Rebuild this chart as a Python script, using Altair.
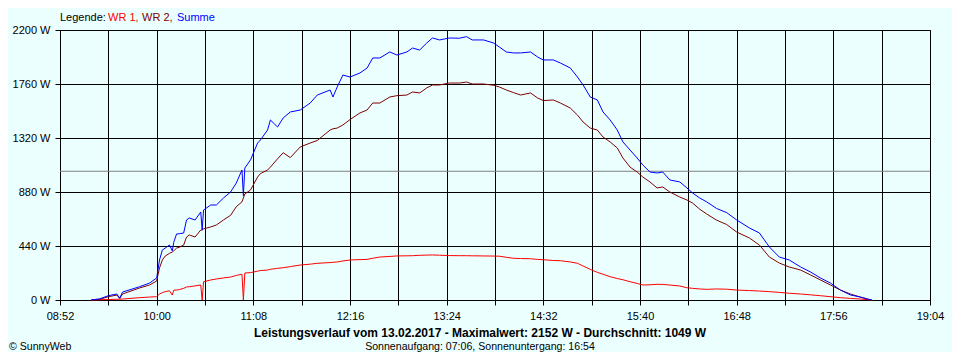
import altair as alt
import pandas as pd

# ---------------- data ----------------
times = [
    "09:14", "09:20", "09:26", "09:32", "09:34", "09:36", "09:48", "09:55", "10:00", "10:02",
    "10:04", "10:06", "10:09", "10:11", "10:12", "10:14", "10:16", "10:19", "10:21", "10:23",
    "10:27", "10:31", "10:32", "10:33", "10:38", "10:42", "10:47", "10:52", "10:56", "11:00",
    "11:01", "11:02", "11:06", "11:11", "11:13", "11:18", "11:20", "11:25", "11:29", "11:34",
    "11:41", "11:48", "11:53", "12:02", "12:04", "12:07", "12:11", "12:16", "12:23", "12:28",
    "12:32", "12:37", "12:44", "12:49", "12:56", "13:00", "13:05", "13:10", "13:14", "13:19",
    "13:26", "13:33", "13:38", "13:42", "13:50", "13:57", "14:01", "14:06", "14:11", "14:16",
    "14:23", "14:28", "14:32", "14:39", "14:44", "14:51", "14:56", "15:00", "15:05", "15:10",
    "15:14", "15:19", "15:24", "15:28", "15:33", "15:38", "15:42", "15:47", "15:52", "15:56",
    "16:01", "16:08", "16:13", "16:17", "16:22", "16:27", "16:34", "16:41", "16:48", "16:57",
    "17:04", "17:11", "17:18", "17:25", "17:33", "17:40", "17:47", "17:54", "18:01", "18:08",
    "18:15", "18:20", "18:23",
]

summe = [
    0, 10, 35, 49, 15, 65, 108, 138, 179, 326,
    407, 423, 448, 400, 470, 538, 540, 546, 652, 668,
    652, 717, 570, 733, 774, 774, 831, 880, 953, 1059,
    850, 1075, 1141, 1279, 1304, 1385, 1467, 1410, 1483, 1532,
    1548, 1605, 1670, 1711, 1654, 1736, 1833, 1817, 1850, 1890,
    1972, 1972, 2021, 1996, 2021, 2053, 2037, 2094, 2135, 2119,
    2135, 2133, 2146, 2119, 2119, 2094, 2062, 2021, 2013, 2013,
    2021, 1980, 1956, 1956, 1931, 1890, 1817, 1752, 1654, 1630,
    1532, 1467, 1385, 1288, 1222, 1157, 1100, 1043, 1035, 1043,
    978, 962, 913, 872, 831, 799, 745, 712, 652, 587,
    546, 432, 350, 326, 269, 228, 179, 138, 81, 41,
    24, 8, 0,
]

wr2 = [
    0, 5, 27, 40, 12, 49, 98, 122, 155, 261,
    326, 358, 380, 391, 400, 423, 430, 448, 513, 530,
    513, 570, 570, 580, 595, 611, 652, 690, 760, 800,
    830, 864, 896, 1002, 1030, 1059, 1083, 1150, 1200, 1160,
    1247, 1279, 1300, 1385, 1395, 1401, 1426, 1470, 1524, 1548,
    1605, 1605, 1654, 1665, 1670, 1695, 1687, 1728, 1752, 1752,
    1768, 1768, 1776, 1760, 1760, 1750, 1736, 1711, 1690, 1670,
    1687, 1646, 1625, 1630, 1605, 1564, 1507, 1450, 1401, 1385,
    1328, 1288, 1239, 1157, 1083, 1043, 1002, 962, 913, 921,
    880, 839, 815, 790, 740, 700, 650, 615, 554, 505,
    448, 350, 301, 269, 244, 204, 163, 122, 81, 49,
    24, 8, 0,
]

wr1 = [
    0, 2, 4, 6, 6, 8, 19, 24, 27, 49,
    60, 68, 75, 40, 80, 81, 85, 95, 106, 108,
    115, 122, 0, 149, 163, 171, 180, 187, 200, 210,
    0, 220, 223, 235, 240, 244, 250, 258, 263, 272,
    285, 292, 299, 305, 307, 310, 318, 326, 329, 331,
    340, 350, 355, 359, 360, 361, 364, 366, 367, 365,
    362, 361, 361, 360, 359, 358, 357, 348, 340, 338,
    336, 331, 328, 322, 320, 310, 299, 277, 250, 225,
    210, 190, 175, 165, 149, 135, 122, 124, 128, 127,
    122, 114, 100, 95, 90, 87, 90, 88, 81, 77,
    73, 68, 62, 55, 49, 42, 35, 27, 19, 13,
    8, 3, 0,
]

average_value = 1049
x_tick_labels = ["08:52", "10:00", "11:08", "12:16", "13:24", "14:32", "15:40", "16:48", "17:56", "19:04"]
y_ticks = [0, 440, 880, 1320, 1760, 2200]

legend_parts = ["Legende:", "WR 1,", "WR 2,", "Summe"]
title_text = "Leistungsverlauf vom 13.02.2017 - Maximalwert: 2152 W - Durchschnitt: 1049 W"
subtitle_text = "Sonnenaufgang: 07:06, Sonnenuntergang: 16:54"
credit_text = "\u00a9 SunnyWeb"

# ---------------- build ----------------
FONT = "Liberation Sans"
C_WR1 = "#FF0000"
C_WR2 = "#800000"
C_SUM = "#0000FF"


def to_min(s):
    h, m = s.split(":")
    return int(h) * 60 + int(m)


df = pd.DataFrame({"t": [to_min(s) for s in times], "wr1": wr1, "wr2": wr2, "summe": summe})

major = [to_min(s) for s in x_tick_labels]
ticks = []
for a, b in zip(major[:-1], major[1:]):
    ticks += [a, (a + b) // 2]
ticks.append(major[-1])

label_expr = "".join(f"datum.value == {v} ? '{s}' : " for v, s in zip(major, x_tick_labels)) + "''"

x_enc = alt.X(
    "t:Q",
    scale=alt.Scale(domain=[major[0], major[-1]], nice=False, zero=False),
    axis=alt.Axis(values=ticks, labelExpr=label_expr, title=None, labelFlush=False,
                  labelOverlap=False, labelPadding=5),
)
y_scale = alt.Scale(domain=[0, 2200], nice=False)
y_axis = alt.Axis(values=y_ticks, labelExpr="datum.value + ' W'", title=None,
                  labelOverlap=False, labelPadding=5)

base = alt.Chart(df)


def line(field, color):
    return base.mark_line(color=color, strokeWidth=1).encode(
        x=x_enc,
        y=alt.Y(f"{field}:Q", scale=y_scale, axis=y_axis),
    )


avg_rule = alt.Chart(pd.DataFrame({"avg": [average_value]})).mark_rule(
    color="#808080", strokeWidth=1
).encode(y=alt.Y("avg:Q", scale=y_scale, axis=y_axis))


def text_layer(txt, x, y, color="black", bold=False, align="left", size=11):
    return alt.Chart(pd.DataFrame({"txt": [txt]})).mark_text(
        align=align, baseline="alphabetic", font=FONT, fontSize=size,
        fontWeight="bold" if bold else "normal", color=color,
    ).encode(x=alt.value(x), y=alt.value(y), text="txt:N")


legend_x = [0, 48, 82, 117]
legend_colors = ["black", C_WR1, C_WR2, C_SUM]
texts = [text_layer(t, x, -9, color=c) for t, x, c in zip(legend_parts, legend_x, legend_colors)]
texts.append(text_layer(title_text, 420, 307, bold=True, align="center", size=12))
texts.append(text_layer(subtitle_text, 420, 320, align="center", size=10.6))
texts.append(text_layer(credit_text, -51, 320, size=10.6))

chart = alt.layer(
    avg_rule,
    line("wr1", C_WR1),
    line("wr2", C_WR2),
    line("summe", C_SUM),
    *texts,
).properties(
    width=870,
    height=270,
    padding={"left": 52, "top": 22, "right": 22, "bottom": 52},
    autosize=alt.AutoSizeParams(type="none"),
    background="#EBFFFF",
).configure_axis(
    grid=True,
    gridColor="black",
    gridOpacity=1,
    gridWidth=1,
    domainColor="black",
    tickColor="black",
    tickSize=5,
    labelColor="black",
    labelFont=FONT,
    labelFontSize=11,
).configure_view(
    stroke="black",
    strokeWidth=1,
)

chart.save("out.html", embed_options={"renderer": "svg", "actions": False})
